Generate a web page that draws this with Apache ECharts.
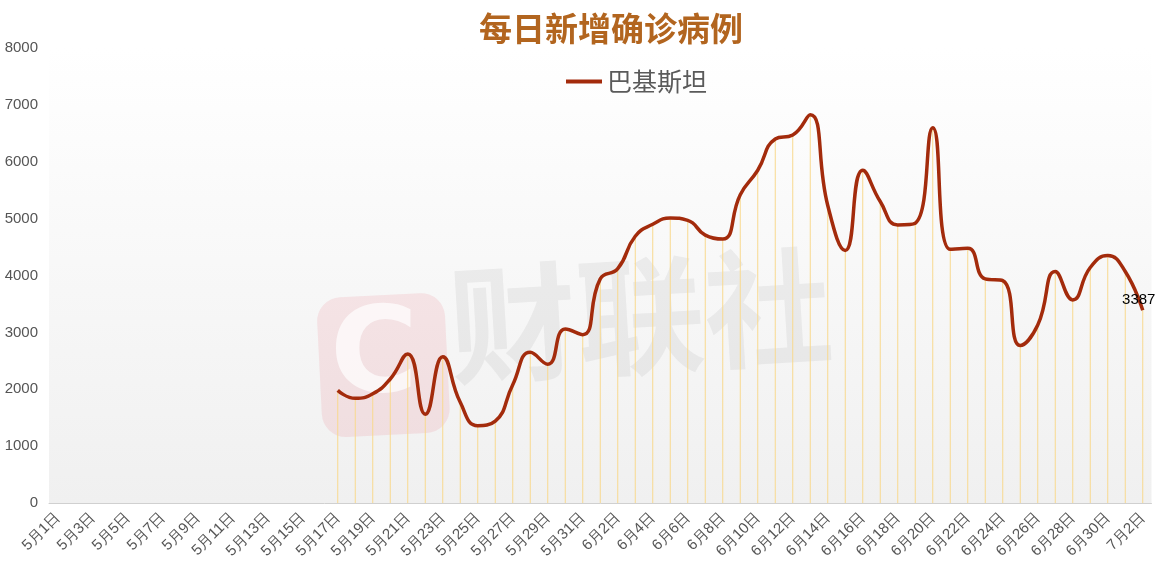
<!DOCTYPE html>
<html>
<head>
<meta charset="utf-8">
<title>每日新增确诊病例</title>
<script src="https://cdn.jsdelivr.net/npm/echarts@6/dist/echarts.min.js"></script>
<style>
  html, body { margin: 0; padding: 0; background: #fff; }
  #chart { width: 1162px; height: 579px; }
</style>
</head>
<body>
<div id="chart"></div>
<script>
// 日期：5月1日 - 7月2日
var dates = []
for (var d = 1; d <= 31; d++) dates.push('5月' + d + '日')
for (var d = 1; d <= 30; d++) dates.push('6月' + d + '日')
for (var d = 1; d <= 2; d++) dates.push('7月' + d + '日')

// 5月17日之前无数据
var leading = [null, null, null, null, null, null, null, null,
  null, null, null, null, null, null, null, null]
var cases = [
  1980, 1840, 1920, 2180, 2620, 1560, 2570, 1770, 1360, 1440, 2080,
  2650, 2440, 3060, 2960, 3940, 4120, 4690, 4900, 5010, 4970,
  4710, 4640, 5420, 5850, 6400, 6470, 6825, 5230, 4440, 5850,
  5300, 4890, 4920, 6600, 4460, 4480, 3940, 3910, 2770, 3130,
  4070, 3570, 4140, 4350, 4070, 3387
]
var seriesName = '巴基斯坦'

var values = leading.concat(cases)
var lastIdx = values.length - 1

var myChart = echarts.init(document.getElementById('chart'))
var option = {
  animation: false,
  title: {
    text: '每日新增确诊病例',
    left: 606,
    textAlign: 'center',
    top: 7,
    textStyle: {
      fontSize: 33,
      fontWeight: 'bold',
      color: '#b2651f',
      fontFamily: 'Noto Sans CJK SC'
    }
  },
  legend: {
    data: [{ name: seriesName, icon: 'rect' }],
    left: 561,
    top: 64,
    itemWidth: 36,
    itemHeight: 4,
    itemGap: 10,
    textStyle: {
      fontSize: 25,
      color: '#5a5a5a',
      fontFamily: 'Noto Sans CJK SC'
    }
  },
  grid: {
    left: 49,
    right: 10.5,
    top: 48,
    bottom: 76,
    show: true,
    borderWidth: 0,
    backgroundColor: new echarts.graphic.LinearGradient(0, 0, 0, 1, [
      { offset: 0, color: '#ffffff' },
      { offset: 1, color: '#f0f0f0' }
    ])
  },
  graphic: [
    {
      type: 'rect',
      left: 316,
      top: 292,
      shape: { width: 128, height: 140, r: 24 },
      rotation: 0.05,
      style: { fill: 'rgba(230, 90, 110, 0.13)' },
      z: 0
    },
    {
      type: 'text',
      left: 330,
      top: 300,
      style: {
        text: 'C',
        fontSize: 120,
        fontWeight: 'bold',
        fill: 'rgba(255,255,255,0.7)',
        fontFamily: 'DejaVu Sans'
      },
      z: 0
    },
    {
      type: 'text',
      left: 445,
      top: 240,
      rotation: 0.06,
      style: {
        text: '财联社',
        fontSize: 128,
        fontWeight: 'bold',
        fill: 'rgba(150,150,150,0.13)',
        fontFamily: 'Noto Sans CJK SC'
      },
      z: 0
    }
  ],
  xAxis: {
    type: 'category',
    data: dates,
    boundaryGap: true,
    axisLine: { lineStyle: { color: '#d0d0d0', width: 1 } },
    axisTick: { interval: 1, length: 5, lineStyle: { color: '#d0d0d0' } },
    axisLabel: {
      interval: 1,
      rotate: 45,
      fontSize: 15,
      color: '#555',
      margin: 12
    },
    splitLine: { show: false }
  },
  yAxis: {
    type: 'value',
    min: 0,
    max: 8000,
    interval: 1000,
    axisLine: { show: false },
    axisTick: { show: false },
    splitLine: { show: false },
    axisLabel: {
      fontSize: 15,
      color: '#555',
      margin: 11,
      formatter: function (v) { return String(v) }
    }
  },
  series: [
    {
      name: 'drop',
      type: 'bar',
      data: values,
      barWidth: 1,
      itemStyle: { color: '#f8d98e' },
      silent: true,
      z: 1
    },
    {
      name: seriesName,
      type: 'line',
      data: values,
      smooth: true,
      symbol: 'none',
      connectNulls: false,
      lineStyle: { color: '#a32b0c', width: 3.5 },
      itemStyle: { color: '#a32b0c' },
      markPoint: {
        symbol: 'circle',
        symbolSize: 0,
        silent: true,
        data: [{ coord: [lastIdx, values[lastIdx]], value: values[lastIdx] }],
        label: {
          show: true,
          position: 'top',
          distance: 3,
          offset: [-4, 0],
          color: '#000',
          fontSize: 15,
          formatter: '{c}'
        }
      },
      z: 3
    }
  ]
}
myChart.setOption(option)
</script>
</body>
</html>
